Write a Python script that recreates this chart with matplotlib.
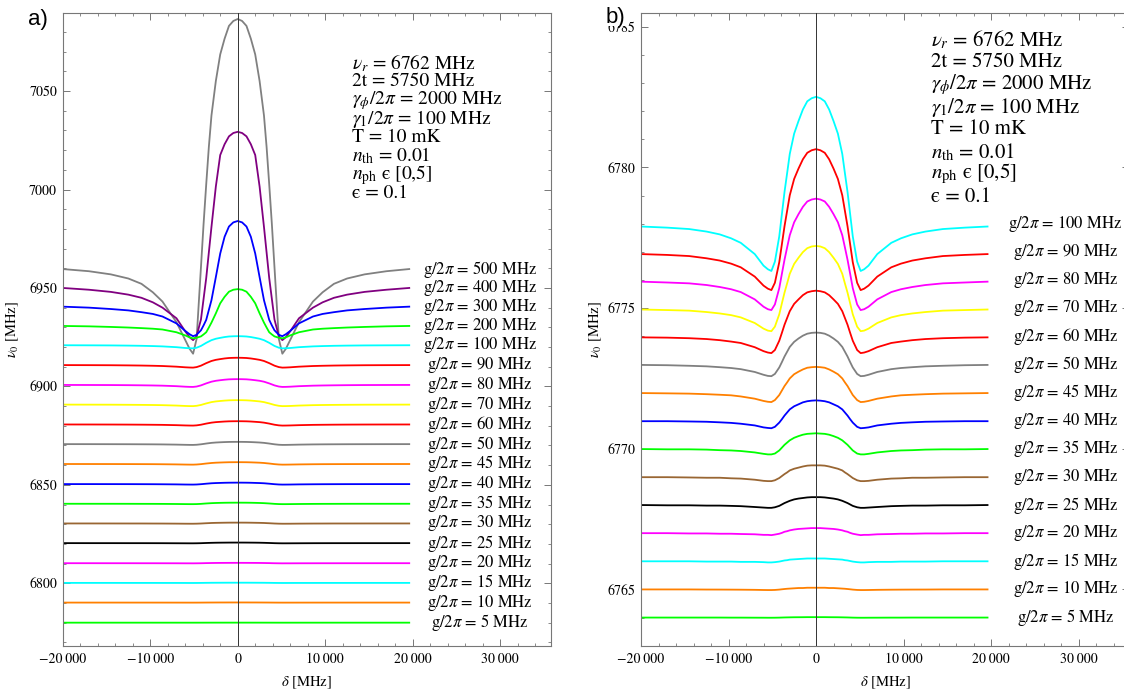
import matplotlib
matplotlib.use("Agg")
import matplotlib.pyplot as plt
from matplotlib.ticker import MultipleLocator, FuncFormatter
from matplotlib.patches import Rectangle

plt.rcParams['font.family'] = ['STIXGeneral', 'DejaVu Serif']
plt.rcParams['mathtext.fontset'] = 'stix'

# ----------- DATA ------------------------------------
# detuning grid, curves are symmetric around delta = 0
delta_left = [-20000, -17000, -14500, -12500, -11000, -9700, -8600, -7000,
              -6000, -5500, -5100, -4700, -4200, -3900, -3600, -3300, -3000,
              -2500, -2000, -1500, -1000, -500]
delta_right = [0, 500, 1000, 1500, 2000, 2500, 3000, 3300, 3600, 3900, 4200,
               4700, 5100, 5500, 6000, 7000, 8600, 9700, 11000, 12500, 14500,
               17000, 19600]

# shift of nu_0 from its far-detuned value [MHz], on delta_right
d500 = [127, 126, 123.5, 117, 109, 95.5, 78, 62, 43, 23, 1, -35.5, -43, -40.5,
        -36, -27, -16.5, -11.8, -7.5, -4.8, -2.7, -1.1, 0]
d400 = [79.3, 78.7, 77, 73, 67.5, 51.5, 31, 18, 5, -5.5, -16, -24.5, -26.5,
        -25, -22, -15.4, -10, -7.3, -5, -3.4, -2, -0.9, 0]
d300 = [43.5, 42.8, 40.7, 35.5, 27, 15, 3.3, -1.7, -6.7, -9.5, -12, -14.3,
        -15, -14, -12.3, -8.5, -5, -3.7, -2.8, -1.9, -1.2, -0.5, 0]
d200 = [18.7, 18.4, 17.4, 14.8, 11.5, 6.4, 1.7, -0.8, -3.2, -4.3, -5.3, -6,
        -6.3, -5.8, -4.8, -3.2, -1.8, -1.4, -1.1, -0.8, -0.5, -0.2, 0]
d100 = [4.51, 4.46, 4.35, 4.06, 3.65, 3.20, 2.48, 1.80, 1.13, 0.34, -0.45,
        -1.35, -1.68, -1.62, -1.49, -1.08, -0.68, -0.52, -0.38, -0.28, -0.19,
        -0.14, -0.10]
d90 = [3.65, 3.61, 3.52, 3.29, 2.96, 2.59, 2.01, 1.46, 0.91, 0.27, -0.37,
       -1.10, -1.36, -1.31, -1.20, -0.88, -0.55, -0.42, -0.31, -0.23, -0.15,
       -0.11, -0.08]
d80 = [2.89, 2.86, 2.79, 2.60, 2.34, 2.05, 1.59, 1.16, 0.72, 0.22, -0.29,
       -0.87, -1.07, -1.04, -0.95, -0.69, -0.43, -0.33, -0.25, -0.18, -0.12,
       -0.09, -0.06]
d70 = [2.21, 2.19, 2.13, 1.99, 1.79, 1.57, 1.22, 0.88, 0.55, 0.17, -0.22,
       -0.66, -0.82, -0.80, -0.73, -0.53, -0.33, -0.25, -0.19, -0.14, -0.09,
       -0.07, -0.05]
d60 = [1.62, 1.60, 1.56, 1.46, 1.31, 1.15, 0.89, 0.65, 0.41, 0.12, -0.16,
       -0.49, -0.60, -0.58, -0.53, -0.39, -0.24, -0.19, -0.14, -0.10, -0.07,
       -0.05, -0.04]
d50 = [1.13, 1.12, 1.09, 1.02, 0.92, 0.80, 0.62, 0.45, 0.28, 0.08, -0.11,
       -0.34, -0.42, -0.41, -0.37, -0.27, -0.17, -0.13, -0.10, -0.07, -0.05,
       -0.03, -0.02]
d45 = [0.91, 0.90, 0.88, 0.82, 0.74, 0.65, 0.50, 0.36, 0.23, 0.07, -0.09,
       -0.27, -0.34, -0.33, -0.30, -0.22, -0.14, -0.10, -0.08, -0.06, -0.04,
       -0.03, -0.02]
d40 = [0.72, 0.71, 0.69, 0.65, 0.58, 0.51, 0.40, 0.29, 0.18, 0.05, -0.07,
       -0.22, -0.27, -0.26, -0.24, -0.17, -0.11, -0.08, -0.06, -0.04, -0.03,
       -0.02, -0.02]
d35 = [0.55, 0.54, 0.53, 0.50, 0.45, 0.39, 0.30, 0.22, 0.14, 0.04, -0.06,
       -0.17, -0.20, -0.20, -0.18, -0.13, -0.08, -0.06, -0.05, -0.03, -0.02,
       -0.02, -0.01]
d30 = [0.41, 0.41, 0.40, 0.37, 0.33, 0.29, 0.23, 0.16, 0.10, 0.03, -0.04,
       -0.12, -0.15, -0.15, -0.14, -0.10, -0.06, -0.05, -0.03, -0.03, -0.02,
       -0.01, -0.01]
d25 = [0.28, 0.28, 0.27, 0.25, 0.23, 0.20, 0.15, 0.11, 0.07, 0.02, -0.03,
       -0.08, -0.10, -0.10, -0.09, -0.07, -0.04, -0.03, -0.02, -0.02, -0.01,
       -0.01, 0.0]
d20 = [0.18, 0.18, 0.17, 0.16, 0.15, 0.13, 0.10, 0.07, 0.05, 0.01, -0.02,
       -0.05, -0.07, -0.06, -0.06, -0.04, -0.03, -0.02, -0.02, -0.01, -0.01,
       0.0, 0.0]
d15 = [0.10, 0.10, 0.10, 0.09, 0.08, 0.07, 0.06, 0.04, 0.03, 0.01, -0.01,
       -0.03, -0.04, -0.04, -0.03, -0.02, -0.02, -0.01, -0.01, -0.01, 0.0,
       0.0, 0.0]
d10 = [0.06, 0.06, 0.06, 0.05, 0.05, 0.04, 0.03, 0.024, 0.015, 0.005, -0.006,
       -0.018, -0.022, -0.022, -0.02, -0.014, -0.009, -0.007, -0.005, -0.004,
       0.0, 0.0, 0.0]
d5 = [0.015, 0.015, 0.015, 0.013, 0.012, 0.011, 0.008, 0.006, 0.004, 0.001,
      -0.002, -0.005, -0.006, -0.006, -0.005, -0.004, -0.002, -0.002, 0.0,
      0.0, 0.0, 0.0, 0.0]

g_a = [500, 400, 300, 200, 100, 90, 80, 70, 60, 50, 45, 40, 35, 30, 25, 20, 15, 10, 5]
colors_a = ['#808080', '#800080', '#0000ff', '#00ff00', '#00ffff', '#ff0000',
            '#ff00ff', '#ffff00', '#ff0000', '#808080', '#ff8000', '#0000ff',
            '#00ff00', '#996633', '#000000', '#ff00ff', '#00ffff', '#ff8000',
            '#00ff00']
base_a = [6959.6, 6950.0, 6940.5, 6930.7, 6921.0, 6910.9, 6900.8, 6890.8,
          6880.7, 6870.7, 6860.6, 6850.4, 6840.4, 6830.4, 6820.4, 6810.2,
          6800.2, 6790.2, 6780.0]

g_b = [100, 90, 80, 70, 60, 50, 45, 40, 35, 30, 25, 20, 15, 10, 5]
base_b = [6778, 6777, 6776, 6775, 6774, 6773, 6772, 6771, 6770, 6769, 6768,
          6767, 6766, 6765, 6764]

params = [r'$\nu_r$ = 6762 MHz', '2t = 5750 MHz', r'$\gamma_\phi/2\pi$ = 2000 MHz',
          r'$\gamma_1/2\pi$ = 100 MHz', 'T = 10 mK', r'$n_{\rm th}$ = 0.01',
          r'$n_{\rm ph}$ ' + '\u03f5 [0,5]', '\u03f5 = 0.1']
# -----------------------------------------------------

shifts = dict(zip(g_a, [d500, d400, d300, d200, d100, d90, d80, d70, d60, d50,
                        d45, d40, d35, d30, d25, d20, d15, d10, d5]))
color_of = dict(zip(g_a, colors_a))
delta = delta_left + delta_right


def full_curve(half):
    return half[:0:-1] + half


def xfmt(v, pos):
    if v == 0:
        return '0'
    s = f"{abs(int(v)):,}".replace(',', '\u2009')
    return ('\u2212' if v < 0 else '') + s


W, H = 1124, 695
fig = plt.figure(figsize=(W / 100, H / 100), dpi=100)
ax_a = fig.add_axes([62.7 / W, 49.3 / H, 488.3 / W, 633 / H])
ax_b = fig.add_axes([641 / W, 49.3 / H, 488.3 / W, 633 / H])


def style(ax, ymaj, ymin):
    ax.set_xlim(-20000, 35800)
    ax.xaxis.set_major_locator(MultipleLocator(10000))
    ax.xaxis.set_minor_locator(MultipleLocator(2000))
    ax.yaxis.set_major_locator(MultipleLocator(ymaj))
    ax.yaxis.set_minor_locator(MultipleLocator(ymin))
    ax.xaxis.set_major_formatter(FuncFormatter(xfmt))
    ax.yaxis.set_major_formatter(FuncFormatter(lambda v, p: f"{v:.0f}"))
    ax.tick_params(which='both', direction='in', top=True, right=True,
                   color='#777777', labelsize=10)
    ax.tick_params(which='major', length=5, width=0.7)
    ax.tick_params(which='minor', length=2.5, width=0.6)
    ax.tick_params(axis='x', pad=5)
    ax.tick_params(axis='y', pad=4)
    for sp in ax.spines.values():
        sp.set_color('#777777')
        sp.set_linewidth(0.8)
    ax.axvline(0, color='#333333', lw=0.7, zorder=3)
    ax.set_xlabel(r'$\delta$ [MHz]', fontsize=10.5)
    ax.set_ylabel(r'$\nu_0$ [MHz]', fontsize=10.5)
    ax.xaxis.set_label_coords(0.5, -0.045)


# ----------- panel a -------------
for g, base in zip(g_a, base_a):
    y = [base + v for v in full_curve(shifts[g])]
    ax_a.plot(delta, y, color=color_of[g], lw=1.3, zorder=2)
    ax_a.text(27700, base, f'g/2$\\pi$ = {g} MHz', fontsize=12,
              ha='center', va='center')
ax_a.set_ylim(6768.3, 7089.8)
style(ax_a, 50, 10)
ax_a.yaxis.set_label_coords(-0.085, 0.5)

# ----------- panel b -------------
for g, base in zip(g_b, base_b):
    y = [base + v for v in full_curve(shifts[g])]
    ax_b.plot(delta, y, color=color_of[g], lw=1.3, zorder=2)
    ax_b.text(28500, base, f'g/2$\\pi$ = {g} MHz', fontsize=12,
              ha='center', va='center')
ax_b.set_ylim(6763.0, 6785.5)
style(ax_b, 5, 1)
ax_b.yaxis.set_label_coords(-0.076, 0.5)

# parameter blocks
for i, line in enumerate(params):
    fig.text(352 / W, 1 - (63 + 18.6 * i) / H, line, fontsize=14, va='center')
    fig.text(931 / W, 1 - (40 + 22.4 * i) / H, line, fontsize=15, va='center')

# panel letters
fig.patches.append(Rectangle((600 / W, 1 - 26 / H), 27 / W, 26 / H,
                             transform=fig.transFigure, facecolor='white',
                             edgecolor='none', zorder=5))
fig.text(38 / W, 1 - 20 / H, 'a)', family=['Liberation Sans', 'DejaVu Sans'],
         fontsize=16, ha='center', va='center')
fig.text(615 / W, 1 - 18 / H, 'b)', family=['Liberation Sans', 'DejaVu Sans'],
         fontsize=16, ha='center', va='center', zorder=6)

fig.savefig('out.png', dpi=100)
